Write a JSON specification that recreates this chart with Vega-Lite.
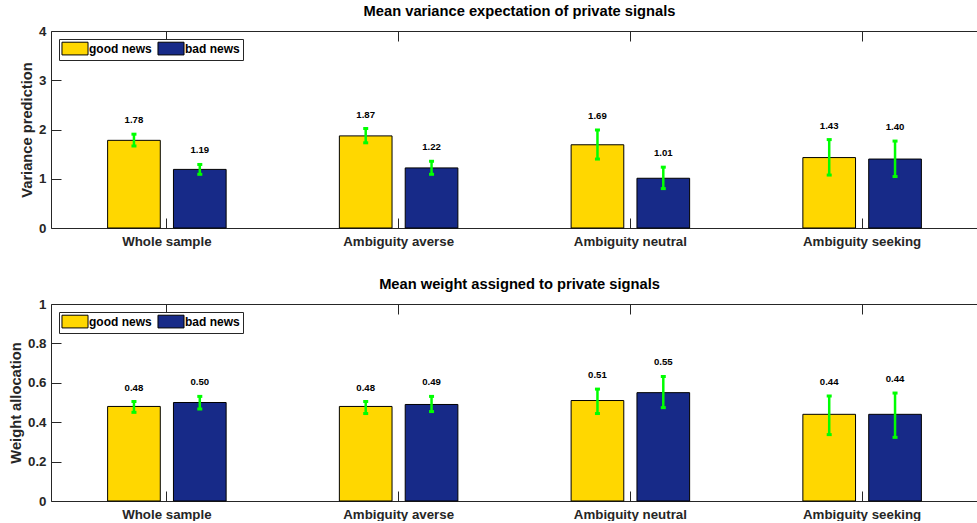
{
  "$schema": "https://vega.github.io/schema/vega-lite/v6.json",
  "padding": {"left": 8, "top": 4, "right": 0, "bottom": 0},
  "spacing": 29,
  "datasets": {
    "variance": [
      {"group": "Whole sample", "news": "good news", "mean": 1.78, "lo": 1.665, "hi": 1.905},
      {"group": "Whole sample", "news": "bad news", "mean": 1.19, "lo": 1.09, "hi": 1.29},
      {"group": "Ambiguity averse", "news": "good news", "mean": 1.87, "lo": 1.73, "hi": 2.02},
      {"group": "Ambiguity averse", "news": "bad news", "mean": 1.22, "lo": 1.09, "hi": 1.355},
      {"group": "Ambiguity neutral", "news": "good news", "mean": 1.69, "lo": 1.4, "hi": 1.99},
      {"group": "Ambiguity neutral", "news": "bad news", "mean": 1.01, "lo": 0.8, "hi": 1.235},
      {"group": "Ambiguity seeking", "news": "good news", "mean": 1.43, "lo": 1.075, "hi": 1.795},
      {"group": "Ambiguity seeking", "news": "bad news", "mean": 1.4, "lo": 1.045, "hi": 1.765}
    ],
    "weight": [
      {"group": "Whole sample", "news": "good news", "mean": 0.48, "lo": 0.45, "hi": 0.505},
      {"group": "Whole sample", "news": "bad news", "mean": 0.5, "lo": 0.467, "hi": 0.531},
      {"group": "Ambiguity averse", "news": "good news", "mean": 0.48, "lo": 0.444, "hi": 0.505},
      {"group": "Ambiguity averse", "news": "bad news", "mean": 0.49, "lo": 0.454, "hi": 0.531},
      {"group": "Ambiguity neutral", "news": "good news", "mean": 0.51, "lo": 0.444, "hi": 0.568},
      {"group": "Ambiguity neutral", "news": "bad news", "mean": 0.55, "lo": 0.474, "hi": 0.632},
      {"group": "Ambiguity seeking", "news": "good news", "mean": 0.44, "lo": 0.337, "hi": 0.533},
      {"group": "Ambiguity seeking", "news": "bad news", "mean": 0.44, "lo": 0.323, "hi": 0.548}
    ]
  },
  "vconcat": [
    {
      "data": {"name": "variance"},
      "width": 927,
      "height": 197,
      "title": {"text": "Mean variance expectation of private signals"},
      "resolve": {"axis": {"x": "independent", "y": "independent"}},
      "layer": [
        {
          "mark": {"type": "bar", "stroke": "#000000", "strokeWidth": 1},
          "encoding": {
            "x": {"field": "group", "type": "nominal", "sort": ["Whole sample", "Ambiguity averse", "Ambiguity neutral", "Ambiguity seeking"],
                  "scale": {"paddingInner": 0, "paddingOuter": -0.0369, "align": 0.175},
                  "axis": {"orient": "bottom", "title": null, "labelAngle": 0}},
            "xOffset": {"field": "news", "type": "nominal", "sort": ["good news", "bad news"], "scale": {"paddingInner": 0.2, "paddingOuter": 0.86}},
            "y": {"field": "mean", "type": "quantitative", "scale": {"domain": [0, 4], "nice": false},
                  "axis": {"orient": "left", "title": "Variance prediction", "values": [0, 1, 2, 3, 4]}},
            "fill": {"field": "news", "type": "nominal", "sort": ["good news", "bad news"],
                     "scale": {"domain": ["good news", "bad news"], "range": ["#FFD700", "#172A88"]},
                     "legend": {"title": null}}
          }
        },
        {
          "mark": {"type": "rule", "color": "#00FF00", "strokeWidth": 2.5},
          "encoding": {
            "x": {"field": "group", "type": "nominal", "sort": ["Whole sample", "Ambiguity averse", "Ambiguity neutral", "Ambiguity seeking"],
                  "axis": {"orient": "top", "title": null, "labels": false}},
            "xOffset": {"field": "news", "type": "nominal", "sort": ["good news", "bad news"]},
            "y": {"field": "lo", "type": "quantitative", "axis": null},
            "y2": {"field": "hi"}
          }
        },
        {
          "mark": {"type": "tick", "color": "#00FF00", "size": 5, "thickness": 3, "opacity": 1},
          "encoding": {
            "x": {"field": "group", "type": "nominal", "sort": ["Whole sample", "Ambiguity averse", "Ambiguity neutral", "Ambiguity seeking"], "axis": null},
            "xOffset": {"field": "news", "type": "nominal", "sort": ["good news", "bad news"]},
            "y": {"field": "lo", "type": "quantitative", "axis": null}
          }
        },
        {
          "mark": {"type": "tick", "color": "#00FF00", "size": 5, "thickness": 3, "opacity": 1},
          "encoding": {
            "x": {"field": "group", "type": "nominal", "sort": ["Whole sample", "Ambiguity averse", "Ambiguity neutral", "Ambiguity seeking"], "axis": null},
            "xOffset": {"field": "news", "type": "nominal", "sort": ["good news", "bad news"]},
            "y": {"field": "hi", "type": "quantitative", "axis": null}
          }
        },
        {
          "mark": {"type": "text", "font": "Liberation Sans", "fontSize": 9.6, "fontWeight": "bold", "color": "#000000", "baseline": "alphabetic", "dy": -11},
          "encoding": {
            "x": {"field": "group", "type": "nominal", "sort": ["Whole sample", "Ambiguity averse", "Ambiguity neutral", "Ambiguity seeking"], "axis": null},
            "xOffset": {"field": "news", "type": "nominal", "sort": ["good news", "bad news"]},
            "y": {"field": "hi", "type": "quantitative", "axis": null},
            "text": {"field": "mean", "type": "quantitative", "format": ".2f"}
          }
        }
      ]
    },
    {
      "data": {"name": "weight"},
      "width": 927,
      "height": 197,
      "title": {"text": "Mean weight assigned to private signals"},
      "resolve": {"axis": {"x": "independent", "y": "independent"}},
      "layer": [
        {
          "mark": {"type": "bar", "stroke": "#000000", "strokeWidth": 1},
          "encoding": {
            "x": {"field": "group", "type": "nominal", "sort": ["Whole sample", "Ambiguity averse", "Ambiguity neutral", "Ambiguity seeking"],
                  "scale": {"paddingInner": 0, "paddingOuter": -0.0369, "align": 0.175},
                  "axis": {"orient": "bottom", "title": null, "labelAngle": 0}},
            "xOffset": {"field": "news", "type": "nominal", "sort": ["good news", "bad news"], "scale": {"paddingInner": 0.2, "paddingOuter": 0.86}},
            "y": {"field": "mean", "type": "quantitative", "scale": {"domain": [0, 1], "nice": false},
                  "axis": {"orient": "left", "title": "Weight allocation", "values": [0, 0.2, 0.4, 0.6, 0.8, 1], "format": "~g"}},
            "fill": {"field": "news", "type": "nominal", "sort": ["good news", "bad news"],
                     "scale": {"domain": ["good news", "bad news"], "range": ["#FFD700", "#172A88"]},
                     "legend": {"title": null}}
          }
        },
        {
          "mark": {"type": "rule", "color": "#00FF00", "strokeWidth": 2.5},
          "encoding": {
            "x": {"field": "group", "type": "nominal", "sort": ["Whole sample", "Ambiguity averse", "Ambiguity neutral", "Ambiguity seeking"],
                  "axis": {"orient": "top", "title": null, "labels": false}},
            "xOffset": {"field": "news", "type": "nominal", "sort": ["good news", "bad news"]},
            "y": {"field": "lo", "type": "quantitative", "axis": null},
            "y2": {"field": "hi"}
          }
        },
        {
          "mark": {"type": "tick", "color": "#00FF00", "size": 5, "thickness": 3, "opacity": 1},
          "encoding": {
            "x": {"field": "group", "type": "nominal", "sort": ["Whole sample", "Ambiguity averse", "Ambiguity neutral", "Ambiguity seeking"], "axis": null},
            "xOffset": {"field": "news", "type": "nominal", "sort": ["good news", "bad news"]},
            "y": {"field": "lo", "type": "quantitative", "axis": null}
          }
        },
        {
          "mark": {"type": "tick", "color": "#00FF00", "size": 5, "thickness": 3, "opacity": 1},
          "encoding": {
            "x": {"field": "group", "type": "nominal", "sort": ["Whole sample", "Ambiguity averse", "Ambiguity neutral", "Ambiguity seeking"], "axis": null},
            "xOffset": {"field": "news", "type": "nominal", "sort": ["good news", "bad news"]},
            "y": {"field": "hi", "type": "quantitative", "axis": null}
          }
        },
        {
          "mark": {"type": "text", "font": "Liberation Sans", "fontSize": 9.6, "fontWeight": "bold", "color": "#000000", "baseline": "alphabetic", "dy": -11},
          "encoding": {
            "x": {"field": "group", "type": "nominal", "sort": ["Whole sample", "Ambiguity averse", "Ambiguity neutral", "Ambiguity seeking"], "axis": null},
            "xOffset": {"field": "news", "type": "nominal", "sort": ["good news", "bad news"]},
            "y": {"field": "hi", "type": "quantitative", "axis": null},
            "text": {"field": "mean", "type": "quantitative", "format": ".2f"}
          }
        }
      ]
    }
  ],
  "resolve": {"scale": {"fill": "independent"}, "legend": {"fill": "independent"}},
  "config": {
    "view": {"stroke": null},
    "background": "white",
    "font": "Liberation Sans",
    "axis": {
      "grid": false,
      "domainColor": "#262626",
      "domainWidth": 1,
      "tickColor": "#262626",
      "tickWidth": 1,
      "tickSize": -10,
      "labelPadding": 15,
      "labelFont": "Liberation Sans",
      "labelFontSize": 13.3,
      "labelFontWeight": "bold",
      "labelColor": "#262626",
      "titleFont": "Liberation Sans",
      "titleFontSize": 14.7,
      "titleFontWeight": "bold",
      "titleColor": "#262626",
      "titlePadding": 4
    },
    "axisX": {"labelPadding": 16},
    "title": {
      "font": "Liberation Sans",
      "fontSize": 14.7,
      "fontWeight": "bold",
      "color": "#000000",
      "anchor": "middle",
      "baseline": "alphabetic",
      "offset": 5,
      "dx": 5
    },
    "legend": {
      "orient": "top-left",
      "offset": 8,
      "direction": "horizontal",
      "symbolType": "M-2.17,-1.06H2.17V1.06H-2.17Z",
      "symbolSize": 144,
      "symbolOffset": 6.5,
      "symbolStrokeColor": "#000000",
      "symbolStrokeWidth": 1,
      "symbolOpacity": 1,
      "labelFont": "Liberation Sans",
      "labelFontSize": 12,
      "labelFontWeight": "bold",
      "labelColor": "#000000",
      "labelOffset": 7.5,
      "columnPadding": 3,
      "padding": 3,
      "strokeColor": "#262626",
      "fillColor": "#ffffff"
    }
  }
}
